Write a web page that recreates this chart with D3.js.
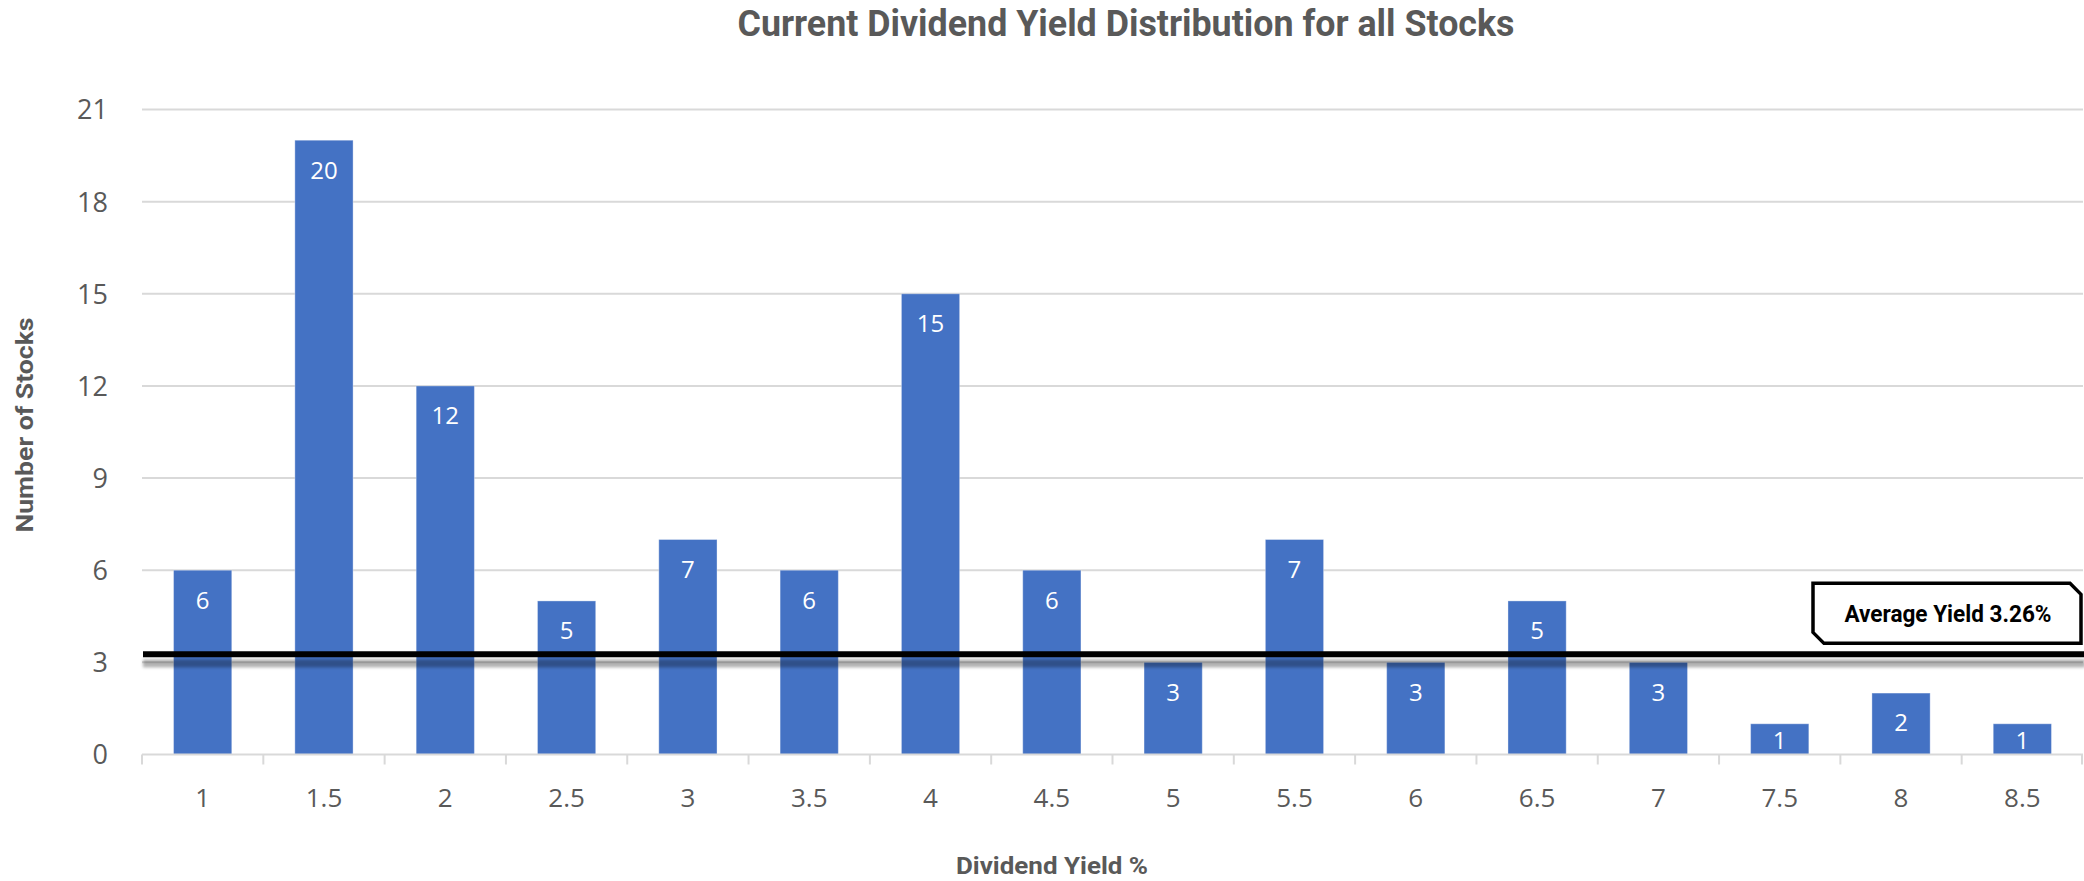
<!DOCTYPE html>
<html>
<head>
<meta charset="utf-8">
<title>Current Dividend Yield Distribution for all Stocks</title>
<script src="https://cdn.jsdelivr.net/npm/d3@7"></script>
<style>
  html, body { margin: 0; padding: 0; background: #ffffff; }
  svg { display: block; }
</style>
</head>
<body>
<svg id="chart" width="2084" height="881"></svg>
<script>
// ---- data ----
const yieldBins = ["1", "1.5", "2", "2.5", "3", "3.5", "4", "4.5", "5", "5.5", "6", "6.5", "7", "7.5", "8", "8.5"];
const stockCounts = [6, 20, 12, 5, 7, 6, 15, 6, 3, 7, 3, 5, 3, 1, 2, 1];
const yTicks = [0, 3, 6, 9, 12, 15, 18, 21];
const averageYield = 3.26;
const averageLabel = "Average Yield 3.26%";

const titleText = "Current Dividend Yield Distribution for all Stocks";
const xTitleText = "Dividend Yield %";
const yTitleText = "Number of Stocks";

// ---- layout ----
const W = 2084, H = 881;
const plot = { left: 142, right: 2083, top: 109.5, bottom: 754.5 };
const barColor = "#4472C4";
const textGrey = "#595959";
const gridGrey = "#D9D9D9";
const condensed = "Roboto, 'Liberation Sans', Arial, sans-serif";
const tickFont = "'Open Sans', 'Noto Sans', 'DejaVu Sans', sans-serif";

const svg = d3.select("#chart");

const defs = svg.append("defs");
defs.append("filter")
  .attr("id", "lineShadow")
  .attr("filterUnits", "userSpaceOnUse")
  .attr("x", 0).attr("y", 0)
  .attr("width", W).attr("height", H)
  .append("feGaussianBlur").attr("stdDeviation", 1.6);

const x = d3.scaleBand()
  .domain(yieldBins)
  .range([plot.left, plot.right])
  .paddingInner(0.52)
  .paddingOuter(0.26);

const y = d3.scaleLinear()
  .domain([0, 21])
  .range([plot.bottom, plot.top]);

// ---- horizontal gridlines ----
svg.append("g")
  .selectAll("line")
  .data(yTicks.filter(t => t > 0))
  .join("line")
  .attr("x1", plot.left).attr("x2", plot.right)
  .attr("y1", d => y(d)).attr("y2", d => y(d))
  .attr("stroke", gridGrey)
  .attr("stroke-width", 2);

// ---- y axis labels ----
const yAxis = d3.axisLeft(y).tickValues(yTicks).tickSize(0).tickPadding(0);
const yAxisG = svg.append("g")
  .attr("transform", `translate(${plot.left - 34},0)`)
  .call(yAxis);
yAxisG.select(".domain").remove();
yAxisG.selectAll("text")
  .attr("font-family", tickFont)
  .attr("font-size", 27)
  .attr("fill", textGrey)
  .attr("dy", "0.35em");

// ---- bars ----
svg.append("g")
  .selectAll("rect")
  .data(stockCounts)
  .join("rect")
  .attr("x", (d, i) => x(yieldBins[i]))
  .attr("width", x.bandwidth())
  .attr("y", d => y(d))
  .attr("height", d => y(0) - y(d))
  .attr("fill", barColor)
  .attr("stroke", "#ffffff")
  .attr("stroke-opacity", 0.35)
  .attr("stroke-width", 1);

// ---- value labels inside the bar ends ----
svg.append("g")
  .selectAll("text")
  .data(stockCounts)
  .join("text")
  .attr("x", (d, i) => x(yieldBins[i]) + x.bandwidth() / 2)
  .attr("y", d => Math.min(y(d) + 30, y(0) - 14))
  .attr("dy", "0.35em")
  .attr("text-anchor", "middle")
  .attr("font-family", tickFont)
  .attr("font-size", 24)
  .attr("fill", "#ffffff")
  .text(d => d);

// ---- x axis: baseline, category boundary ticks, labels ----
svg.append("line")
  .attr("x1", plot.left).attr("x2", plot.right)
  .attr("y1", y(0)).attr("y2", y(0))
  .attr("stroke", gridGrey).attr("stroke-width", 2);

const boundaries = d3.range(yieldBins.length + 1).map(i => plot.left + i * x.step());
svg.append("g")
  .selectAll("line")
  .data(boundaries)
  .join("line")
  .attr("x1", d => Math.min(d, plot.right - 1)).attr("x2", d => Math.min(d, plot.right - 1))
  .attr("y1", y(0)).attr("y2", y(0) + 10)
  .attr("stroke", gridGrey).attr("stroke-width", 2);

const xAxis = d3.axisBottom(x).tickSize(0).tickPadding(0);
const xAxisG = svg.append("g")
  .attr("transform", `translate(0,${y(0)})`)
  .call(xAxis);
xAxisG.select(".domain").remove();
xAxisG.selectAll("text")
  .attr("font-family", tickFont)
  .attr("font-size", 26)
  .attr("fill", textGrey)
  .attr("y", 52)
  .attr("dy", 0);

// ---- average yield reference line with soft drop shadow ----
const avgY = y(averageYield);
svg.append("rect")
  .attr("x", plot.left + 1)
  .attr("y", avgY + 5)
  .attr("width", W - plot.left)
  .attr("height", 8)
  .attr("fill", "#000000")
  .attr("fill-opacity", 0.3)
  .attr("filter", "url(#lineShadow)");
svg.append("line")
  .attr("x1", plot.left + 1).attr("x2", W)
  .attr("y1", avgY).attr("y2", avgY)
  .attr("stroke", "#000000")
  .attr("stroke-width", 6);

// ---- callout box with chamfered corners ----
const bx0 = 1813, bx1 = 2081, by1 = avgY - 11, by0 = by1 - 60, c = 11;
svg.append("path")
  .attr("d", `M${bx0},${by0} L${bx1 - c},${by0} L${bx1},${by0 + c} L${bx1},${by1} L${bx0 + c},${by1} L${bx0},${by1 - c} Z`)
  .attr("fill", "#ffffff")
  .attr("stroke", "#000000")
  .attr("stroke-width", 3.5)
  .attr("stroke-linejoin", "miter");
svg.append("text")
  .attr("x", 1948)
  .attr("y", by0 + 39)
  .attr("text-anchor", "middle")
  .attr("font-family", condensed)
  .attr("font-weight", 700)
  .attr("font-size", 24)
  .attr("fill", "#000000")
  .attr("textLength", 207)
  .attr("lengthAdjust", "spacingAndGlyphs")
  .text(averageLabel);

// ---- titles ----
svg.append("text")
  .attr("x", 1126)
  .attr("y", 36)
  .attr("text-anchor", "middle")
  .attr("font-family", condensed)
  .attr("font-weight", 700)
  .attr("font-size", 36)
  .attr("fill", textGrey)
  .attr("textLength", 777)
  .attr("lengthAdjust", "spacingAndGlyphs")
  .text(titleText);

svg.append("text")
  .attr("x", 1052)
  .attr("y", 874)
  .attr("text-anchor", "middle")
  .attr("font-family", condensed)
  .attr("font-weight", 700)
  .attr("font-size", 24)
  .attr("fill", textGrey)
  .attr("textLength", 192)
  .attr("lengthAdjust", "spacingAndGlyphs")
  .text(xTitleText);

svg.append("text")
  .attr("transform", "translate(33,425) rotate(-90)")
  .attr("text-anchor", "middle")
  .attr("font-family", condensed)
  .attr("font-weight", 700)
  .attr("font-size", 24)
  .attr("fill", textGrey)
  .attr("textLength", 215)
  .attr("lengthAdjust", "spacingAndGlyphs")
  .text(yTitleText);
</script>
</body>
</html>
